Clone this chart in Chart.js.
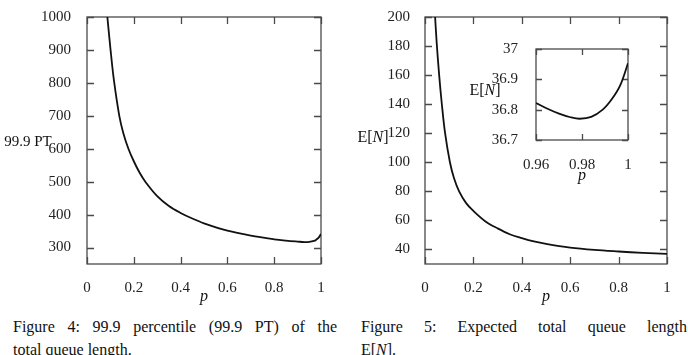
<!DOCTYPE html>
<html lang="en">
<head>
  <meta charset="UTF-8">
  <title>Figures 4 and 5</title>
  <script src="https://cdn.jsdelivr.net/npm/chart.js"></script>
  <style>
    body { margin: 0; background: #fff; width: 688px; height: 355px; overflow: hidden; position: relative;
           font-family: "Liberation Serif", "DejaVu Serif", serif; color: #111; }
    canvas { position: absolute; }
    .lbl { position: absolute; font-size: 15px; white-space: nowrap; transform: translate(-50%, -50%); }
    .cap { position: absolute; font-size: 16px; line-height: 23px; }
    .just { text-align: justify; text-align-last: justify; }
  </style>
</head>
<body>

<canvas id="fig4" width="344" height="300" style="left:0;top:0"></canvas>
<canvas id="fig5" width="344" height="300" style="left:344px;top:0"></canvas>
<canvas id="inset" width="150" height="140" style="left:490px;top:30px"></canvas>

<span class="lbl" style="left:28px;top:141px">99.9 PT</span>
<span class="lbl" style="left:204px;top:296px;font-style:italic;font-size:16px">p</span>
<span class="lbl" style="left:373px;top:137px;font-size:16px">E[<i>N</i>]</span>
<span class="lbl" style="left:546px;top:296px;font-style:italic;font-size:16px">p</span>
<span class="lbl" style="left:485px;top:90px;font-size:16px">E[<i>N</i>]</span>
<span class="lbl" style="left:582px;top:175px;font-style:italic;font-size:16px">p</span>

<div class="cap" style="left:13px;top:315px;width:324px">
  <div class="just">Figure 4: 99.9 percentile (99.9 PT) of the</div>
  <div>total queue length.</div>
</div>
<div class="cap" style="left:361px;top:315px;width:326px">
  <div class="just">Figure 5: Expected total queue length</div>
  <div>E[<i>N</i>].</div>
</div>

<script>
// figure 4 : 99.9 percentile vs p
const p4 = [0.087, 0.1, 0.115, 0.138, 0.155, 0.177, 0.2, 0.225, 0.25, 0.3, 0.35, 0.4, 0.45, 0.5,
            0.6, 0.7, 0.8, 0.85, 0.9, 0.93, 0.95, 0.97, 0.98, 0.99, 1.0];
const pt999 = [1000, 905, 808, 700, 648, 600, 562, 527, 499, 456, 426, 405, 388, 373.5,
               351, 336, 325, 321, 318, 316.5, 317, 320, 324, 330, 341];
const yTicks4 = [300, 400, 500, 600, 700, 800, 900, 1000];

// figure 5 : E[N] vs p
const p5 = [0.04, 0.048, 0.058, 0.069, 0.083, 0.103, 0.12, 0.141, 0.17, 0.2, 0.25, 0.3, 0.35, 0.4,
            0.45, 0.5, 0.6, 0.7, 0.8, 0.9, 1.0];
const en = [205, 183, 161, 141, 120, 100, 89, 80, 71.9, 66.5, 59.3, 54.5, 50.5, 47.8,
            45.5, 43.8, 41.3, 39.7, 38.6, 37.65, 36.95];
const yTicks5 = [40, 60, 80, 100, 120, 140, 160, 180, 200];

// inset zoom near p = 1
const pIn = [0.96, 0.965, 0.97, 0.975, 0.979, 0.984, 0.989, 0.993, 0.9966, 1.0];
const enIn = [36.822, 36.803, 36.787, 36.775, 36.770, 36.776, 36.80, 36.835, 36.88, 36.953];
const yTicksIn = [36.7, 36.8, 36.9, 37];
const xTicksIn = [0.96, 0.98, 1];

const xTicks = [0, 0.2, 0.4, 0.6, 0.8, 1];

Chart.defaults.font.family = 'Liberation Serif';
Chart.defaults.font.size = 15;

// box around the plot with small inward ticks on all sides
const frameTicks = {
  id: 'frameTicks',
  beforeDatasetsDraw(chart, args, opts) {
    const { ctx, chartArea: a, scales: { x, y } } = chart;
    const len = opts.len || 7;
    ctx.save();
    ctx.strokeStyle = '#4a4a4a';
    ctx.lineWidth = 1.3;
    ctx.strokeRect(a.left, a.top, a.right - a.left, a.bottom - a.top);
    ctx.beginPath();
    x.ticks.forEach(t => {
      const px = Math.round(x.getPixelForValue(t.value)) + 0.5;
      ctx.moveTo(px, a.bottom); ctx.lineTo(px, a.bottom - len);
      ctx.moveTo(px, a.top); ctx.lineTo(px, a.top + len);
    });
    y.ticks.forEach(t => {
      const py = Math.round(y.getPixelForValue(t.value)) + 0.5;
      ctx.moveTo(a.left, py); ctx.lineTo(a.left + len, py);
      ctx.moveTo(a.right, py); ctx.lineTo(a.right - len, py);
    });
    ctx.stroke();
    ctx.restore();
  }
};

const tickFont = { family: 'Liberation Serif', size: 15 };

function makeChart(id, xs, ys, cfg) {
  const pts = xs.map((v, i) => ({ x: v, y: ys[i] }));
  return new Chart(document.getElementById(id), {
    type: 'line',
    data: { datasets: [{ data: pts, borderColor: '#111', borderWidth: 1.8, pointRadius: 0,
                         tension: 0.35, fill: false }] },
    options: {
      responsive: false,
      animation: false,
      layout: { padding: cfg.padding },
      plugins: { legend: { display: false }, tooltip: { enabled: false }, frameTicks: { len: cfg.tickLen } },
      scales: {
        x: {
          type: 'linear', min: cfg.xMin, max: cfg.xMax,
          grid: { display: false }, border: { display: false },
          afterBuildTicks: s => { s.ticks = cfg.xTicks.map(v => ({ value: v })); },
          afterFit: s => { s.height = cfg.xH; },
          ticks: { font: tickFont, color: '#222', padding: cfg.xPad, maxRotation: 0,
                   callback: v => String(+(+v).toFixed(2)) }
        },
        y: {
          type: 'linear', min: cfg.yMin, max: cfg.yMax,
          grid: { display: false }, border: { display: false },
          afterBuildTicks: s => { s.ticks = cfg.yTicks.map(v => ({ value: v })); },
          afterFit: s => { s.width = cfg.yW; },
          ticks: { font: tickFont, color: '#222', padding: cfg.yPad,
                   callback: v => String(+(+v).toFixed(2)) }
        }
      }
    },
    plugins: [frameTicks]
  });
}

makeChart('fig4', p4, pt999, {
  padding: { top: 17, right: 23, left: 0, bottom: 0 },
  xMin: 0, xMax: 1, yMin: 250, yMax: 1000, xTicks: xTicks, yTicks: yTicks4,
  xH: 36, yW: 87, xPad: 7, yPad: 8, tickLen: 7
});

makeChart('fig5', p5, en, {
  padding: { top: 17, right: 21, left: 0, bottom: 0 },
  xMin: 0, xMax: 1, yMin: 30, yMax: 200, xTicks: xTicks, yTicks: yTicks5,
  xH: 36, yW: 81, xPad: 7, yPad: 7, tickLen: 7
});

makeChart('inset', pIn, enIn, {
  padding: { top: 10, right: 12, left: 0, bottom: 0 },
  xMin: 0.96, xMax: 1, yMin: 36.7, yMax: 37, xTicks: xTicksIn, yTicks: yTicksIn,
  xH: 30, yW: 46, xPad: 8, yPad: 10, tickLen: 6
});
</script>

</body>
</html>
